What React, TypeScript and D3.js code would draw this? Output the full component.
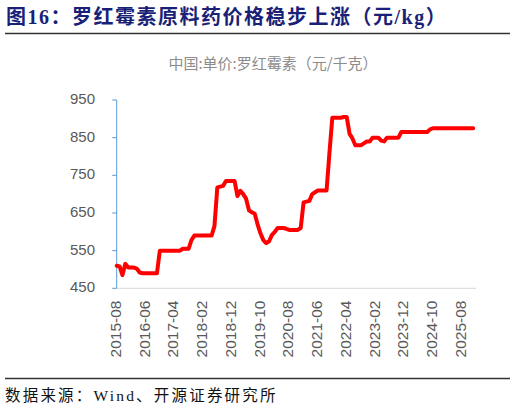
import React from "react";
import * as d3 from "d3";

const title = "图16：罗红霉素原料药价格稳步上涨（元/kg）";
const subtitle = "中国:单价:罗红霉素（元/千克）";
const source = "数据来源：Wind、开源证券研究所";

const startYear = 2015;
const startMonth = 8;
const prices: number[] = [
  510, 508, 485, 515, 505, 505, 505, 502, 492, 490,
  490, 490, 490, 490, 490, 550, 550, 550, 550, 550,
  550, 550, 550, 555, 555, 555, 578, 590, 590, 590,
  590, 590, 590, 590, 615, 718, 720, 722, 735, 735,
  735, 735, 695, 709, 700, 688, 657, 652, 648, 620,
  596, 578, 570, 575, 592, 600, 610, 610, 610, 608,
  605, 605, 605, 605, 610, 678, 680, 682, 700, 705,
  710, 710, 710, 710, 810, 903, 903, 903, 903, 905,
  905, 860, 848, 830, 830, 830, 835, 840, 840, 850,
  850, 850, 842, 840, 850, 850, 850, 850, 850, 865,
  865, 865, 865, 865, 865, 865, 865, 865, 865, 872,
  875, 875, 875, 875, 875, 875, 875, 875, 875, 875,
  875, 875, 875, 875, 875,
];
const months: string[] = prices.map((_, i) => {
  const m = startMonth - 1 + i;
  const y = startYear + Math.floor(m / 12);
  const mm = (m % 12) + 1;
  return `${y}-${mm < 10 ? "0" + mm : mm}`;
});
const yTicks: number[] = [450, 550, 650, 750, 850, 950];
const labelEvery = 10;

export default function App() {
  const W = 515;
  const H = 408;
  const x = d3
    .scalePoint<string>()
    .domain(months)
    .range([116.7, 116.7 + (months.length - 1) * 2.875]);
  const y = d3.scaleLinear().domain([450, 950]).range([288.3, 100]);
  const line = d3
    .line<number>()
    .x((_, i) => x(months[i]) as number)
    .y((d) => y(d));
  const axisX = 116.7;
  const labelMonths = months.filter((_, i) => i % labelEvery === 0);
  const tickFont = "'Liberation Sans', Arial, sans-serif";

  return (
    <svg
      width={W}
      height={H}
      style={{ position: "absolute", left: 0, top: 0, background: "#fff" }}
    >
      <rect x={0} y={0} width={W} height={H} fill="#fff" />
      <text
        x={6}
        y={24}
        fontSize={20}
        fontWeight="bold"
        fill="#1a1f78"
        letterSpacing={1.5}
        fontFamily="'Liberation Serif', 'Noto Sans CJK SC', serif"
      >
        {title}
      </text>
      <line x1={5} x2={510} y1={33.5} y2={33.5} stroke="#333" strokeWidth={1.5} />
      <text
        x={273}
        y={65}
        fontSize={15}
        fill="#8c8c8c"
        textAnchor="middle"
        dominantBaseline="middle"
        fontFamily="'Noto Sans CJK SC', sans-serif"
      >
        {subtitle}
      </text>

      {/* x axis line */}
      <line x1={axisX} x2={476} y1={y(450)} y2={y(450)} stroke="#d9d9d9" strokeWidth={1} />
      {/* y axis */}
      <line x1={axisX} x2={axisX} y1={y(950)} y2={y(450)} stroke="#5b9bd5" strokeWidth={1} />
      {yTicks.map((t) => (
        <g key={t}>
          <line x1={axisX - 4.5} x2={axisX} y1={y(t)} y2={y(t)} stroke="#5b9bd5" strokeWidth={1} />
          <text
            x={95}
            y={y(t)}
            textAnchor="end"
            dominantBaseline="middle"
            fontSize={15}
            fill="#595959"
            fontFamily={tickFont}
          >
            {t}
          </text>
        </g>
      ))}
      {labelMonths.map((m) => (
        <text
          key={m}
          transform={`translate(${x(m)},${300.5}) rotate(-90)`}
          textAnchor="end"
          dominantBaseline="middle"
          fontSize={15.5}
          fill="#595959"
          fontFamily={tickFont}
        >
          {m}
        </text>
      ))}

      <path
        d={line(prices) || ""}
        fill="none"
        stroke="#ff0000"
        strokeWidth={4}
        strokeLinejoin="round"
        strokeLinecap="round"
      />

      <line x1={5} x2={510} y1={378.5} y2={378.5} stroke="#333" strokeWidth={1.5} />
      <text
        x={5}
        y={397}
        fontSize={15.5}
        fill="#111"
        letterSpacing={2.2}
        dominantBaseline="middle"
        fontFamily="'Liberation Serif', 'Noto Sans CJK SC', serif"
      >
        {source}
      </text>
    </svg>
  );
}
